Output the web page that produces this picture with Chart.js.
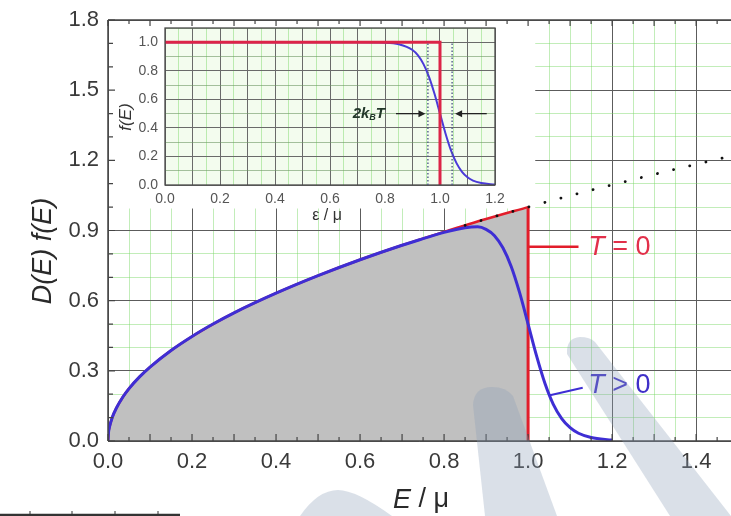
<!DOCTYPE html>
<html>
<head>
<meta charset="utf-8">
<script src="https://cdn.jsdelivr.net/npm/chart.js@4.4.1/dist/chart.umd.min.js"></script>
<style>
  body { margin: 0; background: #fff; }
  #wrap { position: relative; width: 731px; height: 516px; overflow: hidden; }
  #main { position: absolute; left: 0; top: 0; }
  #inset { position: absolute; left: 112px; top: 22px; }
</style>
</head>
<body>
<div id="wrap">
  <canvas id="main" width="731" height="516"></canvas>
  <canvas id="inset" width="420" height="205"></canvas>
</div>
<script>
const energias = [0, 0.001, 0.004, 0.01, 0.02, 0.035, 0.05, 0.075, 0.1, 0.15, 0.2, 0.25, 0.3, 0.4, 0.5, 0.6, 0.7, 0.8, 0.9, 1.0];
const densidadeT0 = [0, 0.032, 0.063, 0.1, 0.141, 0.187, 0.224, 0.274, 0.316, 0.387, 0.447, 0.5, 0.548, 0.632, 0.707, 0.775, 0.837, 0.894, 0.949, 1.0];

const energiasT = [0, 0.001, 0.004, 0.01, 0.02, 0.035, 0.05, 0.075, 0.1, 0.15, 0.2, 0.25, 0.3, 0.4, 0.5, 0.6, 0.7, 0.75, 0.8, 0.85, 0.88, 0.9, 0.92, 0.94, 0.96, 0.98, 1.0, 1.02, 1.04, 1.06, 1.08, 1.1, 1.12, 1.15, 1.2];
const densidadeT = [0, 0.032, 0.063, 0.1, 0.141, 0.187, 0.224, 0.274, 0.316, 0.387, 0.447, 0.5, 0.548, 0.632, 0.707, 0.775, 0.837, 0.865, 0.892, 0.912, 0.916, 0.905, 0.878, 0.826, 0.745, 0.633, 0.5, 0.365, 0.247, 0.157, 0.096, 0.057, 0.033, 0.015, 0.004];

const energiasPont = [0.85, 0.9, 1.0, 1.1, 1.2, 1.3, 1.4, 1.483];
const raizPont = [0.922, 0.949, 1.0, 1.049, 1.095, 1.140, 1.183, 1.218];

const degrauX = [1.0, 1.0];
const degrauY = [0, 1.0];

const ticksX = [0.0, 0.2, 0.4, 0.6, 0.8, 1.0, 1.2, 1.4];
const ticksY = [0.0, 0.3, 0.6, 0.9, 1.2, 1.5, 1.8];

// dados do grafico pequeno: f(E) contra epsilon / mu
const epsT0 = [0, 1.0, 1.0];
const fermiT0 = [1.0, 1.0, 0];
const epsT = [0, 0.7, 0.8, 0.85, 0.9, 0.92, 0.94, 0.96, 0.98, 1.0, 1.02, 1.04, 1.06, 1.08, 1.1, 1.12, 1.15, 1.2];
const fermiT = [1.0, 1.0, 0.997, 0.986, 0.946, 0.908, 0.847, 0.758, 0.639, 0.5, 0.361, 0.242, 0.153, 0.092, 0.054, 0.031, 0.014, 0.003];
const ticksInsetX = [0.0, 0.2, 0.4, 0.6, 0.8, 1.0, 1.2];
const ticksInsetY = [0.0, 0.2, 0.4, 0.6, 0.8, 1.0];

Chart.defaults.font.family = '"Liberation Sans", Arial, sans-serif';
Chart.defaults.color = '#3a3a3a';

const VERMELHO = '#e21d2a';
const AZUL = '#3e2ed4';
const VERDE = 'rgba(120, 215, 100, 0.45)';
const ESCURO = '#5c5c5c';

function pares(xs, ys) {
    return xs.map(function (x, i) { return { x: x, y: ys[i] }; });
}
function naLista(v, lista) {
    return lista.some(function (t) { return Math.abs(t - v) < 1e-6; });
}
function multiplo(v, passo) {
    const r = v / passo;
    return Math.abs(r - Math.round(r)) < 1e-6;
}

// textos com partes em italico
function textoMisto(ctx, partes, x, y, alinhar) {
    let total = 0;
    partes.forEach(function (p) { ctx.font = p.font; total += ctx.measureText(p.t).width; });
    let cx = alinhar === 'center' ? x - total / 2 : x;
    partes.forEach(function (p) {
        ctx.font = p.font;
        ctx.fillText(p.t, cx, y + (p.dy || 0));
        cx += ctx.measureText(p.t).width;
    });
}

const moldura = {
    id: 'moldura',
    beforeDatasetsDraw(chart) {
        const { ctx, chartArea: a, scales: { x, y } } = chart;
        // area branca atras do grafico pequeno
        ctx.save();
        ctx.fillStyle = '#fff';
        ctx.fillRect(a.left + 1, a.top + 1, x.getPixelForValue(1.017) - a.left - 1, y.getPixelForValue(0.994) - a.top - 1);
        ctx.restore();
    },
    afterDatasetsDraw(chart) {
        const { ctx, chartArea: a, scales: { x, y } } = chart;
        ctx.save();
        ctx.strokeStyle = '#444';
        ctx.lineWidth = 1.5;
        ctx.beginPath();
        ctx.moveTo(a.left, a.top); ctx.lineTo(a.right, a.top);
        ctx.moveTo(a.left, a.top); ctx.lineTo(a.left, a.bottom);
        ctx.moveTo(a.left, a.bottom); ctx.lineTo(a.right, a.bottom);
        ctx.stroke();

        // marcas para dentro
        ctx.lineWidth = 1.2;
        ctx.beginPath();
        for (let i = 0; i * 0.05 <= x.max; i++) {
            const px = x.getPixelForValue(i * 0.05);
            const longo = i % 2 === 0;
            ctx.moveTo(px, a.bottom); ctx.lineTo(px, a.bottom - (longo ? 7 : 4));
            ctx.moveTo(px, a.top); ctx.lineTo(px, a.top + (longo ? 6 : 4));
        }
        for (let j = 0; j * 0.1 <= y.max + 1e-9; j++) {
            const py = y.getPixelForValue(j * 0.1);
            ctx.moveTo(a.left, py); ctx.lineTo(a.left + (j % 3 === 0 ? 7 : 5), py);
        }
        ctx.stroke();

        // titulos dos eixos
        ctx.fillStyle = '#2a2a2a';
        ctx.textBaseline = 'middle';
        ctx.save();
        ctx.translate(43, 251);
        ctx.rotate(-Math.PI / 2);
        ctx.textAlign = 'center';
        ctx.font = 'italic 27px "Liberation Sans", Arial, sans-serif';
        ctx.fillText('D(E) f(E)', 0, 0);
        ctx.restore();
        ctx.textAlign = 'left';
        textoMisto(ctx, [
            { t: 'E', font: 'italic 27px "Liberation Sans", Arial, sans-serif' },
            { t: ' / \u03bc', font: '27px "Liberation Sans", Arial, sans-serif' }
        ], 421, 500, 'center');

        // legendas T = 0 e T > 0
        const yT0 = y.getPixelForValue(0.83);
        ctx.strokeStyle = VERMELHO;
        ctx.lineWidth = 2.5;
        ctx.beginPath();
        ctx.moveTo(x.getPixelForValue(1.0), yT0);
        ctx.lineTo(x.getPixelForValue(1.12), yT0);
        ctx.stroke();
        ctx.fillStyle = '#e2304a';
        textoMisto(ctx, [
            { t: 'T', font: 'italic 27px "Liberation Sans", Arial, sans-serif' },
            { t: ' = 0', font: '27px "Liberation Sans", Arial, sans-serif' }
        ], x.getPixelForValue(1.143), yT0 + 1, 'left');

        ctx.strokeStyle = AZUL;
        ctx.lineWidth = 2;
        ctx.beginPath();
        ctx.moveTo(x.getPixelForValue(1.052), y.getPixelForValue(0.196));
        ctx.lineTo(x.getPixelForValue(1.13), y.getPixelForValue(0.228));
        ctx.stroke();
        ctx.fillStyle = '#3f30c8';
        textoMisto(ctx, [
            { t: 'T', font: 'italic 27px "Liberation Sans", Arial, sans-serif' },
            { t: ' > 0', font: '27px "Liberation Sans", Arial, sans-serif' }
        ], x.getPixelForValue(1.143), y.getPixelForValue(0.239), 'left');
        ctx.restore();
    },
    afterDraw(chart) {
        const ctx = chart.ctx;
        ctx.save();
        // marca d'agua
        ctx.fillStyle = 'rgba(140, 158, 185, 0.32)';
        ctx.beginPath();
        ctx.moveTo(300, 516);
        ctx.quadraticCurveTo(318, 490, 338, 490);
        ctx.quadraticCurveTo(356, 490, 392, 516);
        ctx.closePath();
        ctx.fill();
        ctx.beginPath();
        ctx.moveTo(485, 516);
        ctx.lineTo(473, 405);
        ctx.quadraticCurveTo(474, 387, 492, 387);
        ctx.quadraticCurveTo(506, 387, 513, 396);
        ctx.lineTo(557, 516);
        ctx.closePath();
        ctx.fill();
        ctx.beginPath();
        ctx.moveTo(670, 516);
        ctx.lineTo(567, 354);
        ctx.quadraticCurveTo(566, 338, 580, 337);
        ctx.quadraticCurveTo(590, 337, 595, 342);
        ctx.lineTo(731, 516);
        ctx.closePath();
        ctx.fill();
        // pedaco de eixo no canto inferior
        ctx.strokeStyle = '#333';
        ctx.lineWidth = 2.5;
        ctx.beginPath();
        ctx.moveTo(0, 515); ctx.lineTo(180, 515);
        ctx.stroke();
        ctx.lineWidth = 1;
        ctx.beginPath();
        [30, 72, 115, 158].forEach(function (px) { ctx.moveTo(px, 515); ctx.lineTo(px, 511); });
        ctx.stroke();
        ctx.restore();
    }
};

new Chart(document.getElementById('main'), {
    type: 'line',
    data: {
        datasets: [
            {
                data: pares(energiasPont, raizPont),
                borderColor: '#111',
                borderWidth: 2.8,
                borderDash: [0.1, 16.5],
                borderCapStyle: 'round',
                pointRadius: 0,
                cubicInterpolationMode: 'monotone',
                fill: false
            },
            {
                data: pares(energiasT, densidadeT),
                borderColor: AZUL,
                borderWidth: 3,
                pointRadius: 0,
                cubicInterpolationMode: 'monotone',
                fill: false
            },
            {
                data: pares(degrauX, degrauY),
                borderColor: VERMELHO,
                borderWidth: 3,
                pointRadius: 0,
                fill: false
            },
            {
                data: pares(energias, densidadeT0),
                borderColor: VERMELHO,
                borderWidth: 2.5,
                backgroundColor: '#c0c0c0',
                pointRadius: 0,
                cubicInterpolationMode: 'monotone',
                fill: 'origin'
            }
        ]
    },
    options: {
        responsive: false,
        animation: false,
        layout: { padding: { top: 20, left: 0, right: 0, bottom: 0 } },
        plugins: { legend: { display: false }, tooltip: { enabled: false } },
        scales: {
            x: {
                type: 'linear',
                min: 0,
                max: 1.483,
                afterFit(s) { s.height = 75; s.paddingLeft = 0; s.paddingRight = 0; },
                border: { display: false },
                grid: {
                    drawTicks: false,
                    lineWidth: 1,
                    color: function (c) {
                        const v = c.tick.value;
                        if (!multiplo(v, 0.05)) return 'rgba(0,0,0,0)';
                        return multiplo(v, 0.2) ? ESCURO : VERDE;
                    }
                },
                ticks: {
                    stepSize: 0.05,
                    autoSkip: false,
                    maxRotation: 0,
                    padding: 8,
                    font: { size: 22 },
                    callback: function (v) { return naLista(v, ticksX) ? v.toFixed(1) : ''; }
                }
            },
            y: {
                min: 0,
                max: 1.8,
                afterFit(s) { s.width = 108; s.paddingTop = 0; s.paddingBottom = 0; },
                border: { display: false },
                grid: {
                    drawTicks: false,
                    lineWidth: 1,
                    color: function (c) { return multiplo(c.tick.value, 0.3) ? ESCURO : VERDE; }
                },
                ticks: {
                    stepSize: 0.1,
                    autoSkip: false,
                    padding: 9,
                    font: { size: 22 },
                    callback: function (v) { return naLista(v, ticksY) ? v.toFixed(1) : ''; }
                }
            }
        }
    },
    plugins: [moldura]
});

const molduraInset = {
    id: 'molduraInset',
    beforeDraw(chart) {
        const { ctx, chartArea: a } = chart;
        ctx.save();
        ctx.fillStyle = 'rgba(228, 248, 218, 0.45)';
        ctx.fillRect(a.left, a.top, a.right - a.left, a.bottom - a.top);
        ctx.restore();
    },
    afterDatasetsDraw(chart) {
        const { ctx, chartArea: a, scales: { x, y } } = chart;
        ctx.save();
        ctx.strokeStyle = '#4a4a4a';
        ctx.lineWidth = 1.3;
        ctx.strokeRect(a.left, a.top, a.right - a.left, a.bottom - a.top);

        // linhas pontilhadas de 2kT
        ctx.strokeStyle = '#505a8a';
        ctx.lineWidth = 1.4;
        ctx.setLineDash([1.5, 2]);
        ctx.beginPath();
        [0.956, 1.044].forEach(function (e) {
            const px = x.getPixelForValue(e);
            ctx.moveTo(px, y.getPixelForValue(0)); ctx.lineTo(px, y.getPixelForValue(1.0));
        });
        ctx.stroke();
        ctx.setLineDash([]);

        // setas
        const ym = y.getPixelForValue(0.5);
        function seta(de, ate) {
            const x0 = x.getPixelForValue(de), x1 = x.getPixelForValue(ate);
            const s = Math.sign(x1 - x0);
            ctx.strokeStyle = '#222';
            ctx.fillStyle = '#222';
            ctx.lineWidth = 1.3;
            ctx.beginPath();
            ctx.moveTo(x0, ym); ctx.lineTo(x1 - s * 5, ym);
            ctx.stroke();
            ctx.beginPath();
            ctx.moveTo(x1, ym); ctx.lineTo(x1 - s * 7, ym - 3.5); ctx.lineTo(x1 - s * 7, ym + 3.5);
            ctx.closePath();
            ctx.fill();
        }
        seta(0.84, 0.947);
        seta(1.17, 1.055);

        // rotulo 2kBT
        ctx.fillStyle = '#23382a';
        ctx.textBaseline = 'middle';
        ctx.textAlign = 'left';
        const partes = [
            { t: '2k', font: 'bold italic 15px "Liberation Sans", Arial, sans-serif' },
            { t: 'B', font: 'bold italic 9px "Liberation Sans", Arial, sans-serif', dy: 4 },
            { t: 'T', font: 'bold italic 15px "Liberation Sans", Arial, sans-serif' }
        ];
        let largura = 0;
        partes.forEach(function (p) { ctx.font = p.font; largura += ctx.measureText(p.t).width; });
        textoMisto(ctx, partes, x.getPixelForValue(0.80) - largura, ym, 'left');

        // titulos do grafico pequeno
        ctx.fillStyle = '#333';
        ctx.save();
        ctx.translate(14, 95);
        ctx.rotate(-Math.PI / 2);
        ctx.textAlign = 'center';
        ctx.font = 'italic 17px "Liberation Sans", Arial, sans-serif';
        ctx.fillText('f(E)', 0, 0);
        ctx.restore();
        ctx.textAlign = 'left';
        textoMisto(ctx, [{ t: '\u03b5 / \u03bc', font: '16px "Liberation Sans", Arial, sans-serif' }], 215, 194, 'center');
        ctx.restore();
    }
};

new Chart(document.getElementById('inset'), {
    type: 'line',
    data: {
        datasets: [
            {
                data: pares(epsT0, fermiT0),
                borderColor: '#dc2448',
                borderWidth: 3,
                pointRadius: 0,
                fill: false
            },
            {
                data: pares(epsT, fermiT),
                borderColor: '#4a3ad8',
                borderWidth: 2,
                pointRadius: 0,
                cubicInterpolationMode: 'monotone',
                fill: false
            }
        ]
    },
    options: {
        responsive: false,
        animation: false,
        layout: { padding: { top: 6, left: 0, right: 37, bottom: 0 } },
        plugins: { legend: { display: false }, tooltip: { enabled: false } },
        scales: {
            x: {
                type: 'linear',
                min: 0,
                max: 1.2,
                afterFit(s) { s.height = 42; s.paddingLeft = 0; s.paddingRight = 0; },
                border: { display: false },
                grid: {
                    drawTicks: false,
                    color: function (c) { return multiplo(c.tick.value, 0.1) ? '#6a6a6a' : VERDE; }
                },
                ticks: {
                    stepSize: 0.05,
                    autoSkip: false,
                    maxRotation: 0,
                    padding: 6,
                    font: { size: 14 },
                    color: '#555',
                    callback: function (v) { return naLista(v, ticksInsetX) ? v.toFixed(1) : ''; }
                }
            },
            y: {
                min: 0,
                max: 1.1,
                afterFit(s) { s.width = 53; s.paddingTop = 0; s.paddingBottom = 0; },
                border: { display: false },
                grid: {
                    drawTicks: false,
                    color: function (c) { return multiplo(c.tick.value, 0.2) ? '#6a6a6a' : 'rgba(110, 150, 100, 0.6)'; }
                },
                ticks: {
                    stepSize: 0.1,
                    autoSkip: false,
                    padding: 7,
                    font: { size: 14 },
                    color: '#555',
                    callback: function (v) { return naLista(v, ticksInsetY) ? v.toFixed(1) : ''; }
                }
            }
        }
    },
    plugins: [molduraInset]
});
</script>
</body>
</html>
